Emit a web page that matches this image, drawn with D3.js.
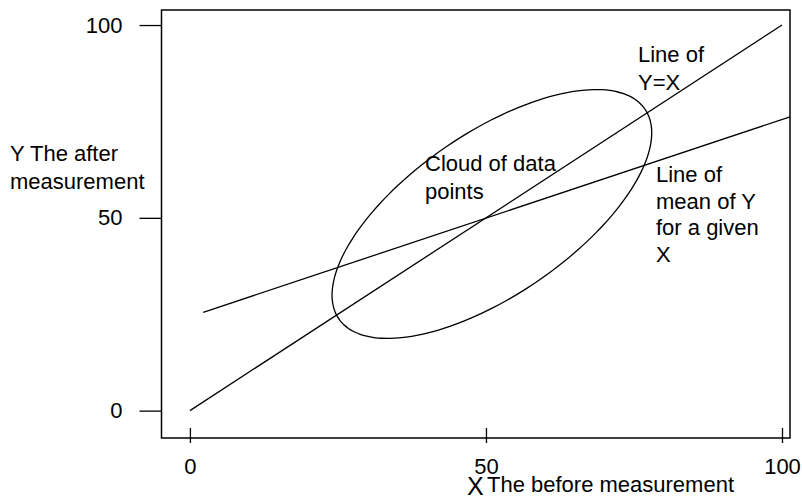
<!DOCTYPE html>
<html>
<head>
<meta charset="utf-8">
<script src="https://cdn.jsdelivr.net/npm/d3@7"></script>
<style>
  body { margin: 0; background: #fff; }
  text { font-family: "Liberation Sans", Arial, sans-serif; fill: #000; }
</style>
</head>
<body>
<svg id="chart"></svg>
<script>
const width = 802;
const height = 499;

// tick values on both axes
const xTicks = [0, 50, 100];
const yTicks = [0, 50, 100];

// reference line Y = X and the line of mean Y for a given X
const identityLine = [[0, 0], [100, 100]];
const meanLine = [[2.25, 25.5], [101.35, 76.2]];

// the cloud of points drawn as an ellipse (centre, semi-axes, tilt in degrees)
const cloudCentre = [51, 51];
const cloudAxes = [38.4, 17.2];
const cloudTilt = [52.7];

// texts
const yTitle = ["Y The after", "measurement"];
const xTitle = ["X", "The before measurement"];
const cloudLabel = ["Cloud of data", "points"];
const identityLabel = ["Line of", "Y=X"];
const meanLabel = ["Line of", "mean of Y", "for a given", "X"];

const frame = { left: 161.5, right: 790, top: 10, bottom: 438 };

const svg = d3.select("#chart")
  .attr("width", width)
  .attr("height", height);

svg.append("rect")
  .attr("width", width)
  .attr("height", height)
  .attr("fill", "#fff");

const x = d3.scaleLinear()
  .domain([-4.8, 101.35])
  .range([frame.left, frame.right]);

const y = d3.scaleLinear()
  .domain([-7.1, 103.9])
  .range([frame.bottom, frame.top]);

// plot frame
svg.append("rect")
  .attr("x", frame.left)
  .attr("y", frame.top)
  .attr("width", frame.right - frame.left)
  .attr("height", frame.bottom - frame.top)
  .attr("fill", "none")
  .attr("stroke", "#000")
  .attr("stroke-width", 1.5);

// axes
const yAxis = svg.append("g")
  .attr("transform", `translate(${frame.left},0)`)
  .call(d3.axisLeft(y).tickValues(yTicks).tickSize(22).tickPadding(17));

const xAxis = svg.append("g")
  .attr("transform", `translate(0,${frame.bottom - 10})`)
  .call(d3.axisBottom(x).tickValues(xTicks).tickSize(15).tickPadding(15));

[xAxis, yAxis].forEach(g => {
  g.select(".domain").remove();
  g.selectAll(".tick line").attr("stroke", "#000").attr("stroke-width", 1.3);
  g.selectAll(".tick text")
    .style("font-family", "'Liberation Sans', Arial, sans-serif")
    .style("font-size", "22px")
    .attr("fill", "#000");
});

const line = d3.line()
  .x(d => x(d[0]))
  .y(d => y(d[1]));

svg.append("path")
  .attr("d", line(identityLine))
  .attr("fill", "none")
  .attr("stroke", "#000")
  .attr("stroke-width", 1.3);

svg.append("path")
  .attr("d", line(meanLine))
  .attr("fill", "none")
  .attr("stroke", "#000")
  .attr("stroke-width", 1.3);

// ellipse outline in data space, mapped through the scales
const tilt = cloudTilt[0] * Math.PI / 180;
const ellipsePts = d3.range(0, 360, 4).map(deg => {
  const t = deg * Math.PI / 180;
  const u = cloudAxes[0] * Math.cos(t);
  const v = cloudAxes[1] * Math.sin(t);
  return [
    cloudCentre[0] + u * Math.cos(tilt) - v * Math.sin(tilt),
    cloudCentre[1] + u * Math.sin(tilt) + v * Math.cos(tilt)
  ];
});

svg.append("path")
  .attr("d", line.curve(d3.curveCardinalClosed)(ellipsePts))
  .attr("fill", "none")
  .attr("stroke", "#000")
  .attr("stroke-width", 1.3);

// multi-line labels
function block(lines, px, py, step) {
  svg.append("g")
    .selectAll("text")
    .data(lines)
    .join("text")
    .attr("x", px)
    .attr("y", (d, i) => py + i * step)
    .style("font-size", "22px")
    .text(d => d);
}

block(yTitle, 10, 161, 27.5);
block(cloudLabel, 425, 171, 27.5);
block(identityLabel, 638, 62, 28);
block(meanLabel, 656, 182, 26.7);

svg.append("text")
  .attr("x", 467)
  .attr("y", 495)
  .style("font-size", "25px")
  .text(xTitle[0]);

svg.append("text")
  .attr("x", 487)
  .attr("y", 492)
  .style("font-size", "22px")
  .text(xTitle[1]);
</script>
</body>
</html>
